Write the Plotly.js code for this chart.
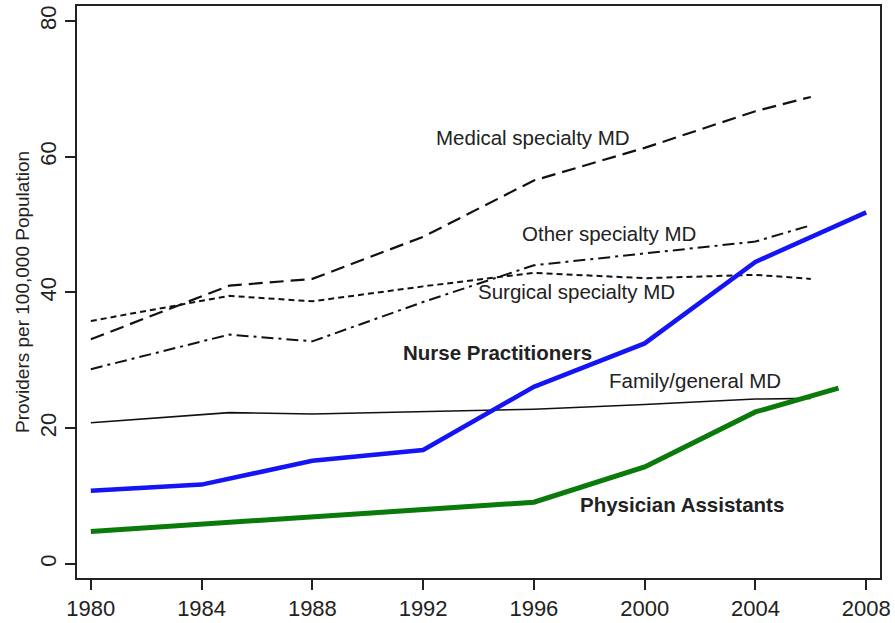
<!DOCTYPE html>
<html>
<head>
<meta charset="utf-8">
<script src="https://cdn.plot.ly/plotly-3.0.1.min.js"></script>
<style>html,body{margin:0;padding:0;background:#fff;}#chart{width:895px;height:623px;}</style>
</head>
<body>
<div id="chart"></div>
<script>
// Data
const npYears = [1980, 1984, 1988, 1992, 1996, 2000, 2004, 2008];
const nursePractitioners = [10.8, 11.7, 15.2, 16.8, 26.1, 32.5, 44.5, 51.8];

const paYears = [1980, 1984, 1988, 1992, 1996, 2000, 2004, 2007];
const physicianAssistants = [4.8, 5.9, 6.9, 8.1, 9.1, 14.3, 22.4, 25.9];

const mdYears = [1980, 1985, 1988, 1992, 1996, 2000, 2004, 2006];
const medicalSpecialty = [33.1, 41.0, 42.0, 48.2, 56.5, 61.3, 66.7, 68.8];
const otherSpecialty = [28.7, 33.8, 32.8, 38.6, 44.0, 45.7, 47.5, 49.9];
const surgicalSpecialty = [35.8, 39.5, 38.7, 40.9, 42.9, 42.1, 42.6, 42.0];
const familyGeneral = [20.8, 22.3, 22.1, 22.4, 22.8, 23.5, 24.3, 24.4];

const xTicks = [1980, 1984, 1988, 1992, 1996, 2000, 2004, 2008];
const yTicks = [0, 20, 40, 60, 80];

// Label positions (data coordinates)
const labels = [
  {text: "Medical specialty MD", x: 1992.4, y: 62.9, bold: false},
  {text: "Other specialty MD", x: 1995.5, y: 48.7, bold: false},
  {text: "Surgical specialty MD", x: 1993.9, y: 40.1, bold: false},
  {text: "Nurse Practitioners", x: 1991.2, y: 31.2, bold: true},
  {text: "Family/general MD", x: 1998.65, y: 27.1, bold: false},
  {text: "Physician Assistants", x: 1997.6, y: 8.8, bold: true}
];

const FONT = "Arial, 'Liberation Sans', sans-serif";

const traces = [
  {x: mdYears, y: familyGeneral, mode: "lines", line: {color: "#111", width: 1.6}},
  {x: mdYears, y: surgicalSpecialty, mode: "lines", line: {color: "#111", width: 2, dash: "6px,4px"}},
  {x: mdYears, y: otherSpecialty, mode: "lines", line: {color: "#111", width: 2, dash: "12px,5px,3px,5px"}},
  {x: mdYears, y: medicalSpecialty, mode: "lines", line: {color: "#111", width: 2.2, dash: "14px,7px"}},
  {x: paYears, y: physicianAssistants, mode: "lines", line: {color: "#0a7a0a", width: 5}},
  {x: npYears, y: nursePractitioners, mode: "lines", line: {color: "#1414f5", width: 4.5}}
];

const annotations = labels.map(l => ({
  text: l.bold ? "<b>" + l.text + "</b>" : l.text,
  x: l.x, y: l.y, xref: "x", yref: "y",
  xanchor: "left", yanchor: "middle", showarrow: false,
  font: {family: FONT, size: 20.5, color: "#222"}
}));

const layout = {
  width: 895, height: 623,
  margin: {l: 77, r: 15, t: 6, b: 45},
  paper_bgcolor: "#fff", plot_bgcolor: "#fff",
  showlegend: false,
  xaxis: {
    range: [1979.5, 2008.5],
    tickvals: xTicks, ticktext: xTicks.map(String),
    ticks: "outside", ticklen: 10, tickwidth: 2, tickcolor: "#222",
    showline: true, mirror: true, linecolor: "#222", linewidth: 2,
    showgrid: false, zeroline: false,
    tickfont: {family: FONT, size: 22, color: "#222"}
  },
  yaxis: {
    range: [-2.06, 82.2],
    tickvals: yTicks, ticktext: yTicks.map(String),
    tickangle: -90,
    ticks: "outside", ticklen: 10, tickwidth: 2, tickcolor: "#222",
    showline: true, mirror: true, linecolor: "#222", linewidth: 2,
    showgrid: false, zeroline: false,
    tickfont: {family: FONT, size: 22, color: "#222"},
    title: {text: "Providers per 100,000 Population", font: {family: FONT, size: 19, color: "#222"}, standoff: 2}
  },
  annotations: annotations
};

Plotly.newPlot("chart", traces, layout, {displayModeBar: false, staticPlot: true});
</script>
</body>
</html>
